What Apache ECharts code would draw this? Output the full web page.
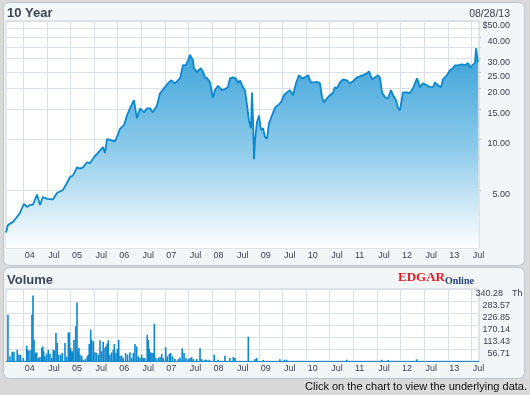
<!DOCTYPE html>
<html><head><meta charset="utf-8">
<script src="https://cdn.jsdelivr.net/npm/echarts@6/dist/echarts.min.js"></script>
<style>html,body{margin:0;padding:0;background:#d9d9d9;}#c{width:530px;height:395px;}</style>
</head><body><div id="c"></div>
<script>
// ---- price series (close, USD) ----
const priceDates = ['2003-08-20','2003-08-28','2003-09-04','2003-10-13','2003-11-05','2003-12-06',
'2004-01-06','2004-01-29','2004-02-21','2004-03-16','2004-04-16','2004-05-09','2004-06-01','2004-07-02','2004-08-18','2004-09-18','2004-11-03','2004-12-04','2004-12-28',
'2005-01-20','2005-02-20','2005-03-15','2005-04-07','2005-05-08','2005-05-31','2005-07-01','2005-08-01','2005-09-09','2005-09-25','2005-10-10','2005-11-02','2005-12-11','2005-12-26',
'2006-01-19','2006-02-19','2006-03-14','2006-04-06','2006-05-07','2006-05-30','2006-06-23','2006-07-24','2006-08-16','2006-09-08','2006-10-01','2006-11-01','2006-11-25','2006-12-26',
'2007-01-26','2007-02-18','2007-03-21','2007-04-13','2007-04-29','2007-05-22','2007-06-14','2007-06-30','2007-07-15','2007-08-07','2007-08-15','2007-09-07','2007-10-08','2007-10-24','2007-11-08','2007-11-24','2007-12-17',
'2008-01-09','2008-01-25','2008-02-17','2008-03-19','2008-04-11','2008-05-04','2008-05-20','2008-06-12','2008-07-05','2008-07-21','2008-08-05','2008-08-29','2008-09-13','2008-09-29','2008-10-14','2008-10-30','2008-11-06','2008-11-14','2008-11-22','2008-11-30','2008-12-15','2008-12-31',
'2009-01-15','2009-01-31','2009-02-15','2009-03-03','2009-03-18','2009-04-10','2009-05-04','2009-05-27','2009-06-19','2009-07-12','2009-08-04','2009-08-28','2009-09-20','2009-10-13','2009-11-05','2009-11-29','2009-12-22',
'2010-01-14','2010-02-06','2010-03-02','2010-03-25','2010-04-17','2010-05-03','2010-05-18','2010-06-10','2010-07-04','2010-07-27','2010-08-11','2010-08-27','2010-09-19','2010-10-12','2010-11-12','2010-12-06','2010-12-29',
'2011-01-29','2011-02-21','2011-03-16','2011-04-16','2011-05-02','2011-05-25','2011-06-17','2011-07-10','2011-07-26','2011-08-11','2011-09-03','2011-09-26','2011-10-19','2011-11-04','2011-11-27','2011-12-12','2011-12-28',
'2012-01-20','2012-02-20','2012-03-14','2012-04-07','2012-04-22','2012-05-08','2012-05-31','2012-06-23','2012-07-24','2012-08-16','2012-09-09','2012-09-24','2012-10-17','2012-11-10','2012-11-25','2012-12-26',
'2013-01-18','2013-02-10','2013-02-26','2013-03-21','2013-04-21','2013-05-14','2013-06-07','2013-06-22','2013-07-08','2013-07-31','2013-08-08','2013-08-15','2013-08-23','2013-08-28'];
const prices = [2.8,2.83,3.1,3.24,3.4,3.66,
4.14,3.97,4.08,4.1,4.7,4.08,4.55,4.43,4.4,4.8,5.0,5.5,5.97,
6.1,6.8,6.7,6.8,7.3,7.2,7.8,8.3,8.97,8.3,10.0,9.9,9.7,10.3,
11.5,12.1,13.8,15.2,17,13.3,15.2,14.4,15.2,15.2,14.4,15.8,18.7,20,
21.4,22.3,21.4,22.3,22.9,27.4,27.4,29.3,31.5,29.3,26.2,25,26.3,25,23.2,23,21.7,
17.5,19.5,20.7,19.5,19.8,20.3,22.9,23.2,22.9,21.4,22.3,20.3,19.5,15.9,12.9,11.6,18.9,13.5,7.6,9.9,12.6,13.8,
11.3,11.6,10.3,10.1,12.4,13.8,15.4,15.9,16.5,18.2,18.9,19.5,18.2,21.4,23.9,22.9,23.2,
23.9,21.7,21.7,21.8,21.4,17.7,16.5,17.4,18.2,18.8,20.3,20,21.7,22.6,22.3,21.4,22,
23.2,23.5,23.9,24.5,25.2,22.6,23.2,23.9,23,18.9,17.7,17.4,19.5,18.2,17,15.4,14.8,
18.9,18.9,18.7,20,21.4,22.9,20.3,21.4,20.8,20.3,20.3,21.7,20.8,20.3,22.6,23.9,
25.6,26.3,27.3,27.3,27.7,27.3,28.2,26.6,27.3,28.2,34.5,35,28.5,28.5];

// ---- volume series (thousands of shares) ----
const volumeDates = ['2003-09-04','2003-09-20','2003-10-07','2003-10-21','2003-11-15','2003-11-28','2003-12-11',
'2004-01-01','2004-01-27','2004-02-04','2004-02-14','2004-03-01','2004-03-08','2004-03-16','2004-03-24','2004-04-03','2004-04-14','2004-04-26','2004-05-09','2004-05-23','2004-05-31','2004-06-07','2004-06-17','2004-06-30','2004-07-13','2004-07-26','2004-08-08','2004-08-20','2004-08-28','2004-09-10','2004-09-20','2004-10-01','2004-10-17','2004-10-29','2004-11-19','2004-12-02','2004-12-15','2004-12-23',
'2005-01-02','2005-01-10','2005-01-17','2005-01-27','2005-02-10','2005-02-20','2005-02-27','2005-03-07','2005-03-15','2005-03-28','2005-04-09','2005-04-25','2005-05-10','2005-05-18','2005-05-26','2005-06-06','2005-06-14','2005-06-26','2005-07-09','2005-07-22','2005-08-07','2005-08-17','2005-08-30','2005-09-11','2005-09-25','2005-10-02','2005-10-12','2005-10-20','2005-11-02','2005-11-15','2005-11-28','2005-12-06','2005-12-19','2005-12-29',
'2006-01-09','2006-01-19','2006-02-01','2006-02-13','2006-03-04','2006-03-19','2006-04-06','2006-04-19','2006-05-02','2006-05-15','2006-05-28','2006-06-10','2006-06-23','2006-07-06','2006-07-18','2006-07-31','2006-08-18','2006-08-26','2006-09-03','2006-09-14','2006-09-24','2006-10-04','2006-10-12','2006-10-25','2006-11-12','2006-11-25','2006-12-08','2006-12-20',
'2007-01-08','2007-01-20','2007-02-05','2007-02-16','2007-03-03','2007-03-21','2007-04-15','2007-04-29','2007-05-16','2007-05-30','2007-06-14','2007-07-02','2007-07-15','2007-07-28','2007-08-10','2007-09-05','2007-10-01','2007-10-14','2007-11-08','2007-11-21','2007-12-12',
'2008-01-19','2008-02-19','2008-04-11','2008-05-20','2008-06-15','2008-06-28','2008-10-09','2008-11-30','2008-12-13',
'2009-02-02','2009-06-11','2009-07-15','2009-08-02','2010-11-10','2011-08-08','2011-09-28','2012-05-05'];
const volumes = [219,22,44,44,53,30,30,
14,72,53,50,53,219,309,100,38,41,14,19,61,69,46,22,35,53,35,14,53,50,132,85,30,30,38,85,19,135,135,
61,46,46,100,164,277,46,61,30,25,6,9,22,30,80,148,100,93,41,38,30,98,46,91,61,69,82,98,30,41,53,80,38,57,
100,25,25,14,38,30,41,14,38,80,69,22,14,30,14,14,124,100,57,41,38,38,176,14,14,19,33,14,
65,22,33,38,22,9,9,16,60,38,14,9,14,19,9,9,60,9,6,6,6,
30,6,25,14,19,14,115,9,14,
5,8,6,6,6,6,5,8];

// ---- axis ticks ----
const xTickDates = ['2004-01-01','2004-07-01','2005-01-01','2005-07-01','2006-01-01','2006-07-01','2007-01-01','2007-07-01','2008-01-01','2008-07-01','2009-01-01','2009-07-01','2010-01-01','2010-07-01','2011-01-01','2011-07-01','2012-01-01','2012-07-01','2013-01-01','2013-07-01'];
const xTickLabels = ['04','Jul','05','Jul','06','Jul','07','Jul','08','Jul','09','Jul','10','Jul','11','Jul','12','Jul','13','Jul'];
const priceGridValues = [5,10,15,20,25,30,35,40,45,50];
const priceLabelValues = [5,10,15,20,25,30,40,50];
const volumeMax = 340.28;
const startDate = '2003-08-20';
const endDate = '2013-08-31';

const toTime = s => { const p = s.split('-').map(Number); return Date.UTC(p[0], p[1]-1, p[2]); };
const xTickTimes = xTickDates.map(toTime);
const xLabelFmt = v => { let best = 0, bd = Infinity; xTickTimes.forEach((t,i)=>{ const d=Math.abs(t-v); if(d<bd){bd=d;best=i;} }); return xTickLabels[best]; };

const FONT = '"Liberation Sans", Arial, sans-serif';
const LABEL = '#3a4052';
const GRIDC = '#dbe0e7';

const chart = echarts.init(document.getElementById('c'), null, {renderer:'canvas'});

function xAxis(gi){
  return {type:'value', gridIndex:gi, min:toTime(startDate), max:toTime(endDate), scale:true,
    axisLine:{show:gi===1, onZero:false, lineStyle:{color:'#1e8dd0', width:1}},
    axisTick:{show:false, customValues:xTickTimes},
    axisLabel:{customValues:xTickTimes, formatter:xLabelFmt, align:'left', padding:[0,0,0,1.5], margin:3,
      fontSize:9, fontFamily:FONT, color:LABEL, hideOverlap:false, showMinLabel:true, showMaxLabel:true},
    splitLine:{show:true, lineStyle:{color:GRIDC, width:1}}};
}

chart.setOption({
  animation:false,
  backgroundColor:'transparent',
  graphic:[
    {type:'rect', z:-100, silent:true, shape:{x:3.5,y:2.5,width:521,height:263,r:6}, style:{fill:'#f3f6f6', stroke:'#bfc5cc', lineWidth:1}},
    {type:'rect', z:-100, silent:true, shape:{x:3.5,y:267.5,width:521,height:111,r:6}, style:{fill:'#f3f6f6', stroke:'#bfc5cc', lineWidth:1}},
    {type:'text', x:7, y:13, style:{text:'10 Year', font:'bold 13px '+FONT, fill:'#3e4559', verticalAlign:'middle'}},
    {type:'text', x:7, y:280, style:{text:'Volume', font:'bold 13px '+FONT, fill:'#3e4559', verticalAlign:'middle'}},
    {type:'text', x:510, y:14, style:{text:'08/28/13', font:'10.5px '+FONT, fill:LABEL, align:'right', verticalAlign:'middle'}},
    {type:'text', x:398, y:278, style:{text:'EDGAR', font:'bold 13px "Liberation Serif", serif', fill:'#e31b23', verticalAlign:'middle'}},
    {type:'text', x:445, y:281, style:{text:'Online', font:'bold 10px "Liberation Serif", serif', fill:'#1d3f7f', verticalAlign:'middle'}},
    {type:'text', x:512, y:294, style:{text:'Th', font:'9px '+FONT, fill:LABEL, verticalAlign:'middle'}},
    {type:'text', x:527, y:387, style:{text:'Click on the chart to view the underlying data.', font:'11px '+FONT, fill:'#111', align:'right', verticalAlign:'middle'}}
  ],
  grid:[
    {left:6, top:21, width:473, height:227, show:true, backgroundColor:'#ffffff', borderColor:'#c9d0d8', borderWidth:1},
    {left:6, top:289, width:473, height:72, show:true, backgroundColor:'#ffffff', borderColor:'#c9d0d8', borderWidth:1}
  ],
  xAxis:[xAxis(0), xAxis(1)],
  yAxis:[
    {type:'log', gridIndex:0, position:'right', logBase:10, min:2.27, max:50,
      axisLine:{show:false},
      axisTick:{show:true, customValues:priceGridValues, length:2, lineStyle:{color:'#c9d0d8'}},
      axisLabel:{customValues:priceLabelValues, formatter:v=> Math.abs(v-50)<1e-6 ? '$50.00' : Number(v).toFixed(2),
        align:'right', margin:31, verticalAlign:'top', fontSize:9, fontFamily:FONT, color:LABEL},
      splitLine:{show:true, lineStyle:{color:GRIDC, width:1}}},
    {type:'value', gridIndex:1, position:'right', min:0, max:volumeMax, interval:volumeMax/6,
      axisLine:{show:false}, axisTick:{show:false},
      axisLabel:{showMinLabel:false, formatter:v=> v > volumeMax-0.01 ? '{top|'+v.toFixed(2)+'}' : v.toFixed(2),
        rich:{top:{padding:[0,7,0,0], fontSize:9, fontFamily:FONT, color:LABEL}},
        align:'right', margin:31, verticalAlign:'top', fontSize:9, fontFamily:FONT, color:LABEL},
      splitLine:{show:true, lineStyle:{color:GRIDC, width:1}}}
  ],
  series:[
    {type:'line', xAxisIndex:0, yAxisIndex:0, showSymbol:false, symbol:'none',
      data: priceDates.map((d,i)=>[toTime(d), prices[i]]),
      lineStyle:{color:'#0a88d0', width:1.8},
      areaStyle:{origin:'start', opacity:1, color:new echarts.graphic.LinearGradient(0,0,0,1,[{offset:0,color:'#39a1d8'},{offset:0.5,color:'#8ccaea'},{offset:1,color:'#ffffff'}])}},
    {type:'bar', xAxisIndex:1, yAxisIndex:1, barWidth:1.6,
      data: volumeDates.map((d,i)=>[toTime(d), volumes[i]]),
      itemStyle:{color:'#0a88d0'}}
  ]
});
</script></body></html>
